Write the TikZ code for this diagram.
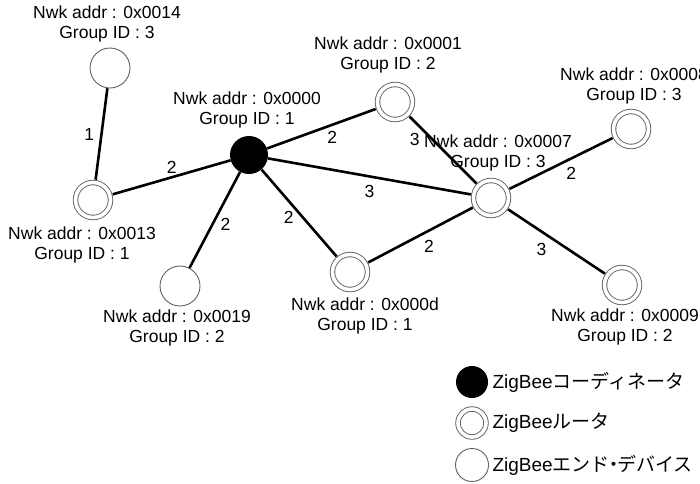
\documentclass[tikz,border=0pt]{standalone}
\usepackage{fontspec}
\setmainfont{Liberation Sans}
\newfontfamily\jpfont{Noto Sans CJK JP}
\begin{document}
\begin{tikzpicture}[x=1pt, y=-1pt,
    link/.style={line width=2.6pt},
    coord/.style={circle, fill=black, minimum size=38pt, inner sep=0pt},
    router/.style={circle, draw=gray!75!black, line width=0.9pt, double=white, double distance=3.6pt, minimum size=35pt, inner sep=0pt, outer sep=3pt},
    enddev/.style={circle, draw=gray!75!black, line width=0.9pt, fill=white, minimum size=40pt, inner sep=0pt},
    addr/.style={align=center, font=\fontsize{17.5}{20}\selectfont},
    hop/.style={font=\fontsize{17.5}{20}\selectfont, inner sep=2pt},
    legend/.style={right, font=\fontsize{19}{22}\selectfont}]
    \useasboundingbox (0, 0) rectangle (700, 483);
% nodes
\node[enddev] (n14) at (110, 68) {};
\node[router] (n13) at (93, 200) {};
\node[coord] (n00) at (249, 155) {};
\node[router] (n01) at (395, 102) {};
\node[router] (n07) at (491, 198) {};
\node[router] (n08) at (631, 129) {};
\node[enddev] (n19) at (180, 286) {};
\node[router] (n0d) at (350, 272) {};
\node[router] (n09) at (622, 285) {};
% addresses
\node[addr] (l14) at (107, 24) {Nwk addr : 0x0014\\Group ID : 3};
\node[addr] (l13) at (82, 245) {Nwk addr : 0x0013\\Group ID : 1};
\node[addr] (l00) at (247, 110) {Nwk addr : 0x0000\\Group ID : 1};
\node[addr] (l01) at (388, 55) {Nwk addr : 0x0001\\Group ID : 2};
\node[addr] (l07) at (498, 153) {Nwk addr : 0x0007\\Group ID : 3};
\node[addr] (l08) at (634, 86) {Nwk addr : 0x0008\\Group ID : 3};
\node[addr] (l19) at (177, 328) {Nwk addr : 0x0019\\Group ID : 2};
\node[addr] (l0d) at (365, 316) {Nwk addr : 0x000d\\Group ID : 1};
\node[addr] (l09) at (625, 327) {Nwk addr : 0x0009\\Group ID : 2};
% links
\draw[link] (n14) -- node[hop, left=4pt] {1} (n13);
\draw[link] (n13) -- node[hop, above=1pt] {2} (n00);
\draw[link] (n00) -- node[hop, pos=.6, below=3pt] {2} (n01);
\draw[link] (n00) -- node[hop, pos=.5, below=6pt] {3} (n07);
\draw[link] (n00) -- node[hop, pos=.55, right=5pt] {2} (n19);
\draw[link] (n00) -- node[hop, pos=.55, left=6pt] {2} (n0d);
\draw[link] (n01) -- node[hop, pos=.2, below left=0pt] {3} (n07);
\draw[link] (n07) -- node[hop, pos=.6, below=6pt] {2} (n08);
\draw[link] (n07) -- node[hop, pos=.42, below=6pt] {2} (n0d);
\draw[link] (n07) -- node[hop, pos=.45, below left=2pt] {3} (n09);
% legend
\node[coord, minimum size=32pt] (k1) at (472, 382) {};
\node[router, minimum size=28pt] (k2) at (472, 423) {};
\node[enddev, minimum size=33pt] (k3) at (472, 465) {};
\node[legend] (t1) at (489, 382) {ZigBee{\jpfont コーディネータ}};
\node[legend] (t2) at (489, 423) {ZigBee{\jpfont ルータ}};
\node[legend] (t3) at (489, 465) {ZigBee{\jpfont エンド\kern-.3em・\kern-.3emデバイス}};
\end{tikzpicture}
\end{document}
